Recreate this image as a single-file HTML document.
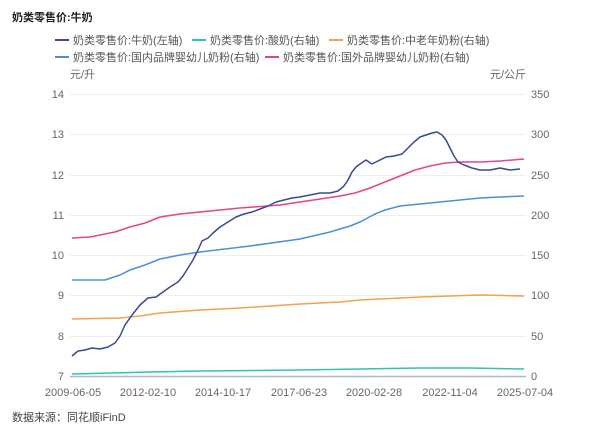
<!DOCTYPE html>
<html><head><meta charset="utf-8"><style>
body{margin:0;background:#fff;width:600px;height:439px;overflow:hidden;font-family:"Liberation Sans","Noto Sans CJK SC",sans-serif}
</style></head><body>
<svg width="600" height="439" xmlns="http://www.w3.org/2000/svg" font-family="Liberation Sans, Noto Sans CJK SC, sans-serif">
<text x="12" y="21" font-size="11" font-weight="bold" fill="#222">奶类零售价:牛奶</text>
<g font-size="11" fill="#555">
<line x1="55" y1="40" x2="69" y2="40" stroke="#3b4a8f" stroke-width="2"/><text x="73" y="44">奶类零售价:牛奶(左轴)</text>
<line x1="192" y1="40" x2="206" y2="40" stroke="#2ec4b0" stroke-width="2"/><text x="210" y="44">奶类零售价:酸奶(右轴)</text>
<line x1="329" y1="40" x2="343" y2="40" stroke="#f5a04a" stroke-width="2"/><text x="347" y="44">奶类零售价:中老年奶粉(右轴)</text>
<line x1="55" y1="57" x2="69" y2="57" stroke="#4a90d9" stroke-width="2"/><text x="73" y="61">奶类零售价:国内品牌婴幼儿奶粉(右轴)</text>
<line x1="265" y1="57" x2="279" y2="57" stroke="#e0468a" stroke-width="2"/><text x="283" y="61">奶类零售价:国外品牌婴幼儿奶粉(右轴)</text>
</g>
<g font-size="11" fill="#666">
<text x="70" y="78">元/升</text><text x="490" y="78">元/公斤</text>
</g>
<g stroke="#eee" stroke-width="1">
<line x1="70" y1="94.5" x2="526" y2="94.5"/><line x1="70" y1="134.5" x2="526" y2="134.5"/><line x1="70" y1="175.5" x2="526" y2="175.5"/><line x1="70" y1="215.5" x2="526" y2="215.5"/><line x1="70" y1="255.5" x2="526" y2="255.5"/><line x1="70" y1="295.5" x2="526" y2="295.5"/><line x1="70" y1="336.5" x2="526" y2="336.5"/>
</g>
<line x1="70" y1="376.5" x2="526" y2="376.5" stroke="#b0b6c8" stroke-width="1.5"/>
<g font-size="11" fill="#666" text-anchor="end">
<text x="64" y="98">14</text><text x="64" y="138">13</text><text x="64" y="179">12</text><text x="64" y="219">11</text><text x="64" y="259">10</text><text x="64" y="299">9</text><text x="64" y="340">8</text><text x="64" y="380">7</text>
</g>
<g font-size="11" fill="#666" text-anchor="start">
<text x="531" y="98">350</text><text x="531" y="138">300</text><text x="531" y="179">250</text><text x="531" y="219">200</text><text x="531" y="259">150</text><text x="531" y="299">100</text><text x="531" y="340">50</text><text x="531" y="380">0</text>
</g>
<g font-size="11" fill="#666" text-anchor="middle">
<text x="73" y="396">2009-06-05</text><text x="148" y="396">2012-02-10</text><text x="223" y="396">2014-10-17</text><text x="299" y="396">2017-06-23</text><text x="374" y="396">2020-02-28</text><text x="450" y="396">2022-11-04</text><text x="525" y="396">2025-07-04</text>
</g>
<g fill="none" stroke-width="1.5" stroke-linejoin="round">
<polyline stroke="#2ec4b0" points="72,374 150,372 200,371 300,370 420,368 470,368 524,369"/>
<polyline stroke="#f5a04a" points="72,319 120,318 140,316 160,313 200,310 240,308 300,304 340,302 360,300 420,297 480,295 524,296"/>
<polyline stroke="#4a90d9" points="72,280 105,280 120,275 130,270 145,265 160,259 180,255 200,252 250,246 300,239 330,232 350,226 360,222 375,214 385,210 400,206 420,204 440,202 460,200 480,198 500,197 524,196"/>
<polyline stroke="#e0468a" points="72,238 90,237 100,235 115,232 130,227 145,223 160,217 180,214 200,212 240,208 280,205 300,202 320,199 340,196 355,193 370,188 385,182 400,176 415,170 430,166 445,163 460,162 480,162 500,161 524,159"/>
<polyline stroke="#3b4a8f" points="72,356 78,351 85,350 92,348 100,349 108,347 115,343 120,336 125,325 132,315 140,305 148,298 156,297 163,292 170,287 178,282 183,276 188,268 193,260 198,250 202,241 208,238 213,233 220,227 228,222 236,217 244,214 252,212 260,209 268,206 276,202 284,200 292,198 300,197 310,195 320,193 330,193 338,191 344,186 348,180 352,172 356,167 360,164 366,160 372,164 378,161 386,157 394,156 402,154 408,148 414,142 420,137 426,135 432,133 437,132 442,135 446,140 450,148 454,156 458,162 464,165 472,168 480,170 490,170 500,168 510,170 520,169"/>
</g>
<text x="12" y="421" font-size="11" fill="#444">数据来源：同花顺iFinD</text>
</svg>
</body></html>
